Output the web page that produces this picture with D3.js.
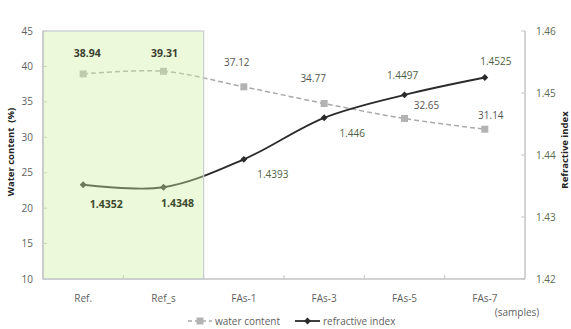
<!DOCTYPE html>
<html lang="en">
  <head>
    <meta charset="utf-8">
    <title>Water content and refractive index</title>
    <script src="https://d3js.org/d3.v7.min.js"></script>
    <style>
      body { margin: 0; background: #fff; }
      text { font-family: "Open Sans", "Noto Sans", sans-serif; }
      .tick-label { font-size: 10px; fill: #5f5f5f; }
      .r-tick-label { font-size: 10px; fill: #5b6a4e; }
      .axis-title { font-size: 9.5px; font-weight: bold; fill: #222; white-space: pre; }
    </style>
  </head>
  <body>
    <script>
      // chart data
      var samples = ['Ref.', 'Ref_s', 'FAs-1', 'FAs-3', 'FAs-5', 'FAs-7'];
      var waterContent = [38.94, 39.31, 37.12, 34.77, 32.65, 31.14];
      var refractiveIndex = [1.4352, 1.4348, 1.4393, 1.446, 1.4497, 1.4525];
      var leftTicks = [10, 15, 20, 25, 30, 35, 40, 45];
      var rightTicks = [1.42, 1.43, 1.44, 1.45, 1.46];
      var shadedSamples = ['Ref.', 'Ref_s'];

      // label nudges (dx, dy) from each point, layout only
      var waterNudge = [[4, -17], [1, -14], [-7, -21], [-11, -21], [22, -10], [6, -10]];
      var indexNudge = [[23, 23], [14, 20], [29, 19], [28, 19], [-2, -16], [11, -13]];

      var outerWidth = 571, outerHeight = 329;
      var margin = { top: 31, left: 43, right: 46, bottom: 50 };
      var width = outerWidth - margin.left - margin.right,
        height = outerHeight - margin.top - margin.bottom;

      var svg = d3.select('body').append('svg')
        .attr('width', outerWidth)
        .attr('height', outerHeight);

      var g = svg.append('g')
        .attr('transform', 'translate(' + margin.left + ',' + margin.top + ')');

      var xScale = d3.scaleBand().domain(samples).range([0, width]);
      var yLeft = d3.scaleLinear().domain([10, 45]).range([height, 0]);
      var yRight = d3.scaleLinear().domain([1.42, 1.46]).range([height, 0]);

      function cx(i) { return xScale(samples[i]) + xScale.bandwidth() / 2; }

      // axes lines
      g.append('line').attr('x1', 0).attr('x2', 0).attr('y1', 0).attr('y2', height)
        .attr('stroke', '#c4c4c4').attr('stroke-width', 2);
      g.append('line').attr('x1', 0).attr('x2', width).attr('y1', height).attr('y2', height)
        .attr('stroke', '#c4c4c4').attr('stroke-width', 1.5);
      g.append('line').attr('x1', width).attr('x2', width).attr('y1', 0).attr('y2', height)
        .attr('stroke', '#c4c4c4').attr('stroke-width', 1.5);

      // ticks
      leftTicks.forEach(function(t) {
        g.append('line').attr('x1', 0).attr('x2', 4)
          .attr('y1', yLeft(t)).attr('y2', yLeft(t)).attr('stroke', '#c4c4c4');
        g.append('text').attr('class', 'tick-label')
          .attr('x', -10).attr('y', yLeft(t)).attr('dy', '0.35em')
          .attr('text-anchor', 'end').text(t);
      });
      rightTicks.forEach(function(t) {
        g.append('line').attr('x1', width - 4).attr('x2', width)
          .attr('y1', yRight(t)).attr('y2', yRight(t)).attr('stroke', '#c4c4c4');
        g.append('text').attr('class', 'r-tick-label')
          .attr('x', width + 11).attr('y', yRight(t)).attr('dy', '0.35em')
          .text(d3.format('.2f')(t));
      });
      samples.forEach(function(s, i) {
        if (i > 0) {
          g.append('line').attr('x1', xScale(s)).attr('x2', xScale(s))
            .attr('y1', height - 4).attr('y2', height).attr('stroke', '#c4c4c4');
        }
        g.append('text').attr('class', 'tick-label')
          .attr('x', cx(i)).attr('y', height + 23)
          .attr('text-anchor', 'middle').text(s);
      });

      // lines
      var waterLine = d3.line()
        .x(function(d, i) { return cx(i); })
        .y(function(d) { return yLeft(d); })
        .curve(d3.curveCatmullRom);
      var indexLine = d3.line()
        .x(function(d, i) { return cx(i); })
        .y(function(d) { return yRight(d); })
        .curve(d3.curveCatmullRom);

      g.append('path').datum(waterContent).attr('d', waterLine)
        .attr('fill', 'none').attr('stroke', '#a9a9a9')
        .attr('stroke-width', 1.5).attr('stroke-dasharray', '5,3');
      g.append('path').datum(refractiveIndex).attr('d', indexLine)
        .attr('fill', 'none').attr('stroke', '#2b2b2b').attr('stroke-width', 1.8);

      g.selectAll('.wmark').data(waterContent).enter().append('rect')
        .attr('class', 'wmark')
        .attr('x', function(d, i) { return cx(i) - 3.5; })
        .attr('y', function(d) { return yLeft(d) - 3.5; })
        .attr('width', 7).attr('height', 7).attr('fill', '#b3b3b3');
      g.selectAll('.imark').data(refractiveIndex).enter().append('path')
        .attr('class', 'imark')
        .attr('d', d3.symbol().type(d3.symbolDiamond2).size(30))
        .attr('transform', function(d, i) { return 'translate(' + cx(i) + ',' + yRight(d) + ')'; })
        .attr('fill', '#2b2b2b');

      // translucent green over the reference samples
      var shadeX0 = xScale(shadedSamples[0]);
      var shadeX1 = xScale(shadedSamples[shadedSamples.length - 1]) + xScale.bandwidth();
      g.append('rect')
        .attr('x', shadeX0).attr('y', 0)
        .attr('width', shadeX1 - shadeX0).attr('height', height)
        .attr('fill', '#d2f0a4').attr('fill-opacity', 0.4)
        .attr('stroke', '#c9ccd0').attr('stroke-width', 1.2);

      // data labels
      waterContent.forEach(function(v, i) {
        var shaded = shadedSamples.indexOf(samples[i]) >= 0;
        g.append('text')
          .attr('x', cx(i) + waterNudge[i][0]).attr('y', yLeft(v) + waterNudge[i][1])
          .attr('text-anchor', 'middle')
          .attr('font-size', shaded ? 10.5 : 10)
          .attr('font-weight', shaded ? 'bold' : 'normal')
          .attr('fill', shaded ? '#3b3f30' : '#555')
          .text(v.toFixed(2));
      });
      refractiveIndex.forEach(function(v, i) {
        var shaded = shadedSamples.indexOf(samples[i]) >= 0;
        g.append('text')
          .attr('x', cx(i) + indexNudge[i][0]).attr('y', yRight(v) + indexNudge[i][1])
          .attr('text-anchor', 'middle')
          .attr('font-size', shaded ? 10.5 : 10)
          .attr('font-weight', shaded ? 'bold' : 'normal')
          .attr('fill', shaded ? '#3b4a2c' : '#4f6143')
          .text(String(v));
      });

      // axis titles
      svg.append('text').attr('class', 'axis-title')
        .attr('transform', 'translate(14,152) rotate(-90)')
        .attr('text-anchor', 'middle').text('Water content  (%)');
      svg.append('text').attr('class', 'axis-title')
        .attr('transform', 'translate(568,150) rotate(-90)')
        .attr('text-anchor', 'middle').text('Refractive index');
      svg.append('text').attr('class', 'tick-label')
        .attr('x', 517).attr('y', 316).attr('text-anchor', 'middle').text('(samples)');

      // legend
      var legend = svg.append('g').attr('transform', 'translate(0,321)');
      legend.append('line').attr('x1', 188).attr('x2', 212).attr('y1', 0).attr('y2', 0)
        .attr('stroke', '#a9a9a9').attr('stroke-width', 1.5).attr('stroke-dasharray', '4,3');
      legend.append('rect').attr('x', 196.5).attr('y', -3.5).attr('width', 7).attr('height', 7)
        .attr('fill', '#b3b3b3');
      legend.append('text').attr('class', 'tick-label').attr('x', 215).attr('dy', '0.35em')
        .text('water content');
      legend.append('line').attr('x1', 295).attr('x2', 320).attr('y1', 0).attr('y2', 0)
        .attr('stroke', '#2b2b2b').attr('stroke-width', 1.8);
      legend.append('path').attr('d', d3.symbol().type(d3.symbolDiamond2).size(30))
        .attr('transform', 'translate(307.5,0)').attr('fill', '#2b2b2b');
      legend.append('text').attr('class', 'tick-label').attr('x', 323).attr('dy', '0.35em')
        .text('refractive index');
    </script>
  </body>
</html>
